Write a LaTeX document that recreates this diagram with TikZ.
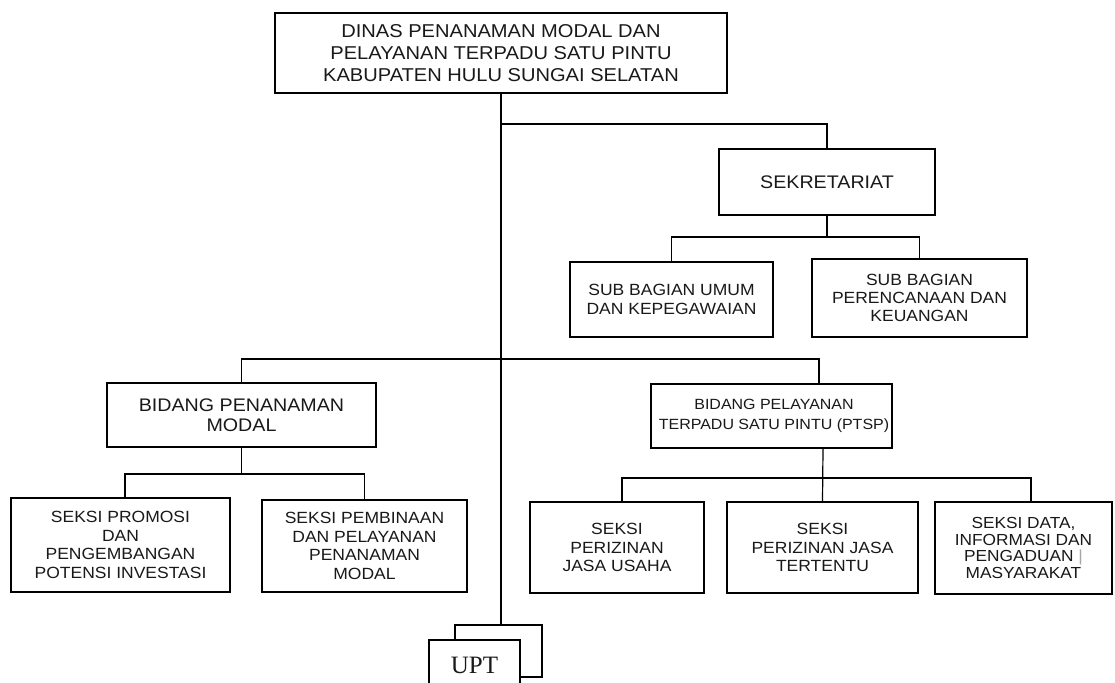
\documentclass[tikz,border=0pt]{standalone}
\usepackage{fontspec}
\setmainfont{Liberation Sans}[FakeStretch=1.08]
\newfontfamily\uptfont{Liberation Serif}
\begin{document}
\begin{tikzpicture}[x=1pt,y=-1pt,
  box/.style={draw, line width=1.2pt, rectangle, inner sep=0pt, align=center, fill=white, text=black!90},
  conn/.style={line width=1.2pt},
  ftop/.style={font=\fontsize{18.6}{21.7}\selectfont},
  fmid/.style={font=\fontsize{18.2}{20}\selectfont},
  fpt/.style={font=\fontsize{14.8}{20}\selectfont},
  fsm/.style={font=\fontsize{16.2}{18.4}\selectfont},
  fdat/.style={font=\fontsize{16}{16.7}\selectfont}]
\useasboundingbox (0,0) rectangle (1115,682);
\clip (0,0) rectangle (1115,682);
\fill[white] (0,0) rectangle (1115,682);

\node[box, ftop, minimum width=452, minimum height=80] (top) at (501,53)
  {DINAS PENANAMAN MODAL DAN\\PELAYANAN TERPADU SATU PINTU\\KABUPATEN HULU SUNGAI SELATAN};
\node[box, fmid, minimum width=216, minimum height=66] (sek) at (827,182) {SEKRETARIAT};
\node[box, fsm, minimum width=203, minimum height=75] (sub1) at (671.5,299.5)
  {SUB BAGIAN UMUM\\DAN KEPEGAWAIAN};
\node[box, fsm, minimum width=215, minimum height=78] (sub2) at (919.5,298)
  {SUB BAGIAN\\PERENCANAAN DAN\\KEUANGAN};
\node[box, fmid, minimum width=269, minimum height=64] (bpm) at (241.5,415)
  {BIDANG PENANAMAN\\MODAL};
\node[box, fpt, minimum width=241, minimum height=64] (ptsp) at (771.5,416)
  {\hspace*{5pt}BIDANG PELAYANAN\\\hspace*{5pt}TERPADU SATU PINTU (PTSP)};
\node[box, fsm, minimum width=219, minimum height=94] (p1) at (120.5,545)
  {SEKSI PROMOSI\\DAN\\PENGEMBANGAN\\POTENSI INVESTASI};
\node[box, fsm, minimum width=205, minimum height=92] (p2) at (364.5,546)
  {SEKSI PEMBINAAN\\DAN PELAYANAN\\PENANAMAN\\MODAL};
\node[box, fsm, minimum width=174, minimum height=91] (s1) at (617,547.5)
  {SEKSI\\PERIZINAN\\JASA USAHA};
\node[box, fsm, minimum width=191, minimum height=91] (s2) at (822.5,547.5)
  {SEKSI\\PERIZINAN JASA\\TERTENTU};
\node[box, fdat, minimum width=177, minimum height=92] (s3) at (1023.5,548)
  {SEKSI DATA,\\INFORMASI DAN\\PENGADUAN {\color{black!35}|}\\MASYARAKAT};
\node[box, minimum width=87, minimum height=52] (uptback) at (498.5,651) {};
\node[box, minimum width=91, minimum height=64] (upt) at (474.5,672)
  {\uptfont\fontsize{25}{28}\selectfont\raisebox{13pt}{UPT}};

\coordinate (busS) at (501,124);
\coordinate (busSub) at (829,237);
\coordinate (busM) at (501,359);
\coordinate (busB) at (243,474);
\coordinate (busP) at (823,478);

% main trunk
\draw[conn] (top.south) -- (top.south |- uptback.north);
% sekretariat
\draw[conn] (busS) -| (sek.north);
\draw[conn] (sek.south) -- (sek.south |- busSub);
\draw[conn] (sub1.north) |- (busSub) -| (sub2.north);
% bidang
\draw[conn] (bpm.north) |- (busM) -| ([xshift=47.5]ptsp.north);
% bidang penanaman modal children
\draw[conn] (bpm.south) -- (bpm.south |- busB);
\draw[conn] ([xshift=4.5]p1.north) |- (busB) -| (p2.north);
% PTSP children
\draw[conn] ([xshift=51.5]ptsp.south) -- (s2.north);
\draw[conn] ([xshift=5]s1.north) |- (busP) -| ([xshift=7.5]s3.north);
\end{tikzpicture}
\end{document}
